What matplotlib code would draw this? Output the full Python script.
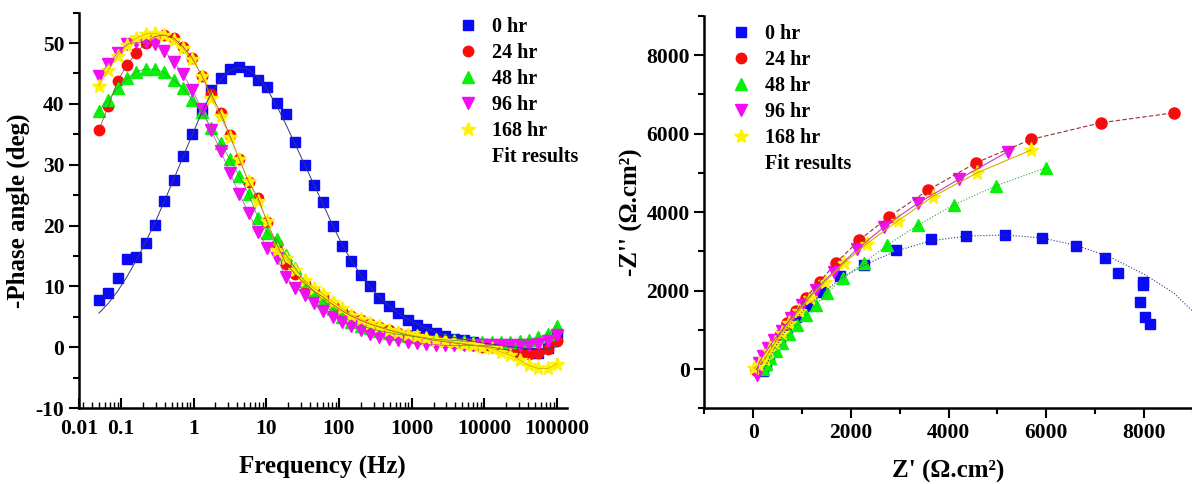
# EIS: Bode phase plot + Nyquist plot for different immersion times
import numpy as np
import matplotlib as mpl
import matplotlib.pyplot as plt
from matplotlib.lines import Line2D
from matplotlib.ticker import MultipleLocator, LogLocator, NullFormatter

mpl.rcParams['font.family'] = ['Liberation Serif', 'DejaVu Serif']
mpl.rcParams['font.weight'] = 'bold'
mpl.rcParams['axes.labelweight'] = 'bold'
mpl.rcParams['axes.unicode_minus'] = False

# ---- data ----
labels = ['0 hr', '24 hr', '48 hr', '96 hr', '168 hr']
colors = ['#0A0AF5', '#FF0A0A', '#0AF00A', '#F50AF5', '#FFF200']
fit_colors = ['#34347a', '#a03030', '#30a030', '#c040c0', '#d0b000']
markers = ['s', 'o', '^', 'v', '*']
msizes = [7, 7.5, 8, 8, 10.5]

# frequency (Hz), low to high
freq = [0.05, 0.0672, 0.0904, 0.1216, 0.1634, 0.2197, 0.2954, 0.3972, 0.5341, 0.7182,
        0.9658, 1.299, 1.746, 2.348, 3.157, 4.246, 5.709, 7.676, 10.32, 13.88,
        18.66, 25.10, 33.75, 45.38, 61.02, 82.05, 110.3, 148.4, 199.5, 268.2,
        360.7, 485.0, 652.2, 876.9, 1179, 1586, 2132, 2867, 3855, 5184,
        6970, 9373, 12603, 16946, 22787, 30640, 41200, 55400, 74494, 100000]

phase_0 = [7.7, 8.9, 11.4, 14.5, 14.8, 17.2, 20.1, 24.0, 27.4, 31.4,
           35.0, 38.8, 42.2, 44.3, 45.7, 46.1, 45.4, 43.9, 42.8, 40.1,
           38.4, 33.7, 30.0, 26.6, 23.8, 19.9, 16.7, 14.1, 11.8, 10.0,
           8.1, 6.8, 5.6, 4.5, 3.6, 3.0, 2.4, 1.8, 1.4, 1.2,
           0.9, 0.6, 0.3, 0.0, -0.3, -0.7, -1.0, -1.0, -0.2, 1.7]
phase_24 = [35.7, 39.6, 43.8, 46.4, 48.4, 50.0, 51.1, 51.3, 50.8, 49.4,
            47.5, 44.6, 41.6, 38.5, 34.8, 30.9, 27.2, 24.6, 20.5, 17.0,
            13.7, 12.0, 10.4, 9.2, 8.2, 7.0, 6.0, 5.1, 4.4, 3.8,
            3.3, 2.8, 2.4, 2.0, 1.7, 1.4, 1.1, 0.9, 0.7, 0.5,
            0.3, 0.1, 0.0, -0.3, -0.6, -0.9, -1.1, -1.0, -0.3, 1.0]
phase_48 = [38.8, 40.7, 42.6, 44.2, 45.3, 45.7, 45.7, 45.2, 44.0, 42.6,
            40.6, 38.6, 36.1, 33.6, 30.9, 28.1, 25.2, 21.3, 18.8, 17.8,
            15.2, 13.0, 10.8, 9.1, 7.6, 6.3, 5.0, 4.2, 3.5, 3.1,
            2.7, 2.4, 2.1, 1.9, 1.7, 1.5, 1.3, 1.2, 1.1, 1.0,
            0.9, 0.9, 0.9, 0.9, 0.9, 1.0, 1.2, 1.6, 2.2, 3.5]
phase_96 = [44.6, 46.5, 48.4, 49.8, 50.1, 50.1, 49.9, 48.7, 46.9, 44.9,
            42.2, 39.2, 35.7, 32.3, 28.7, 25.2, 22.1, 19.0, 16.3, 14.6,
            11.6, 9.8, 8.6, 7.2, 5.9, 5.0, 4.2, 3.4, 2.8, 2.1,
            1.7, 1.4, 1.1, 0.9, 0.7, 0.5, 0.4, 0.3, 0.3, 0.3,
            0.3, 0.3, 0.3, 0.3, 0.3, 0.3, 0.4, 0.6, 1.0, 2.0]
phase_168 = [43.0, 45.5, 47.9, 49.6, 50.8, 51.5, 51.6, 51.3, 50.5, 49.1,
             47.3, 44.6, 41.0, 38.0, 34.5, 31.0, 27.3, 24.1, 20.8, 16.0,
             14.6, 12.7, 11.0, 9.7, 8.7, 7.5, 6.4, 5.3, 4.6, 3.9,
             3.4, 2.9, 2.5, 2.1, 1.8, 1.5, 1.2, 1.0, 0.8, 0.6,
             0.4, 0.1, -0.2, -0.8, -1.3, -2.1, -3.0, -3.5, -3.5, -2.7]
# fitted curve of the 0 hr spectrum
phase_fit_0 = [5.6, 7.2, 9.2, 11.6, 14.3, 17.3, 20.5, 24.0, 27.6, 31.3,
               35.0, 38.6, 41.7, 44.0, 45.5, 46.0, 45.6, 44.4, 42.4, 39.7,
               36.6, 33.3, 30.0, 26.7, 23.4, 20.0, 16.9, 14.2, 11.9, 9.9,
               8.2, 6.8, 5.6, 4.6, 3.8, 3.1, 2.5, 2.0, 1.6, 1.3,
               1.0, 0.7, 0.5, 0.3, 0.1, -0.1, -0.3, -0.4, -0.3, 0.1]
phases = [phase_0, phase_24, phase_48, phase_96, phase_168]

# Nyquist data: Z' and -Z'' (ohm.cm2)
zre_0 = [200, 260, 330, 420, 540, 690, 880, 1120, 1380, 1780, 2260, 2920, 3640,
         4360, 5160, 5920, 6600, 7200, 7470, 7970, 7970, 7920, 8030, 8120]
zim_0 = [-60, 110, 290, 500, 760, 1040, 1330, 1620, 1975, 2370, 2660, 3040, 3320,
         3400, 3420, 3340, 3140, 2830, 2440, 2230, 2150, 1700, 1340, 1150]
zre_24 = [54, 116, 209, 310, 410, 542, 696, 874, 1083, 1362, 1702, 2174, 2785,
          3582, 4565, 5687, 7118, 8611]
zim_24 = [-17, 68, 195, 407, 619, 874, 1171, 1468, 1824, 2231, 2715, 3292, 3886,
          4564, 5260, 5854, 6278, 6533]
zre_48 = [209, 271, 348, 464, 580, 735, 890, 1083, 1277, 1509, 1841, 2259, 2747,
          3381, 4101, 4975, 5996]
zim_48 = [0, 127, 280, 450, 662, 891, 1128, 1383, 1637, 1934, 2333, 2698, 3165,
          3674, 4183, 4675, 5133]
zre_96 = [77, 116, 193, 310, 426, 580, 774, 1006, 1277, 1648, 2128, 2685, 3366,
          4217, 5207]
zim_96 = [-144, 153, 322, 534, 747, 976, 1298, 1637, 2019, 2486, 3054, 3631, 4225,
          4844, 5540]
zre_168 = [23, 116, 232, 333, 441, 580, 735, 928, 1161, 1470, 1857, 2321, 2956,
           3675, 4588, 5687]
zim_168 = [25, 110, 255, 450, 662, 916, 1171, 1468, 1824, 2231, 2698, 3190, 3775,
           4395, 5006, 5582]
# fitted arc of the 0 hr spectrum
zre_fit_0 = [200, 420, 690, 1120, 1780, 2260, 2920, 3640, 4360, 5160, 5920, 6600,
             7300, 8000, 8600, 9000]
zim_fit_0 = [-60, 500, 1040, 1620, 2300, 2640, 3010, 3270, 3390, 3420, 3340, 3160,
             2860, 2420, 1950, 1470]
zres = [zre_0, zre_24, zre_48, zre_96, zre_168]
zims = [zim_0, zim_24, zim_48, zim_96, zim_168]

nyq_fit_styles = [':', (0, (4, 2)), ':', '-', '-']

fig = plt.figure(figsize=(11.92, 4.84), dpi=100)
ax1 = fig.add_axes([0.0663, 0.157, 0.409, 0.817])
ax2 = fig.add_axes([0.5909, 0.1564, 0.4098, 0.8105])

# ---- Bode phase ----
for i in range(5):
    ax1.plot(freq, phases[i], linestyle='none', marker=markers[i], ms=msizes[i],
             color=colors[i], mec=colors[i], label=labels[i], zorder=3 + i)
# fit lines
ax1.plot(freq, phase_fit_0, color=fit_colors[0], lw=0.7, zorder=10)
for i in range(1, 5):
    ax1.plot(freq, phases[i], color=fit_colors[i], lw=0.5, zorder=10)

ax1.set_xscale('log')
xmin, xmax = 0.0266, 1.35e5
ax1.set_xlim(xmin, xmax)
ax1.set_ylim(-10, 55)
ax1.set_xticks([xmin, 0.1, 1, 10, 100, 1000, 10000, 100000])
ax1.set_xticklabels(['0.01', '0.1', '1', '10', '100', '1000', '10000', '100000'])
ax1.xaxis.set_minor_locator(LogLocator(base=10, subs=np.arange(2, 10), numticks=20))
ax1.xaxis.set_minor_formatter(NullFormatter())
ax1.yaxis.set_major_locator(MultipleLocator(10))
ax1.yaxis.set_minor_locator(MultipleLocator(5))
ax1.tick_params(axis='x', which='both', direction='in', labelsize=15.5, pad=8)
ax1.tick_params(axis='x', which='major', length=7, width=1.5)
ax1.tick_params(axis='x', which='minor', length=4, width=1)
ax1.tick_params(axis='y', which='both', direction='out', labelsize=15.5, width=1.5)
ax1.tick_params(axis='y', which='major', length=7)
ax1.tick_params(axis='y', which='minor', length=4)
ax1.set_xlabel('Frequency (Hz)', fontsize=18, labelpad=12)
ax1.set_ylabel('-Phase angle (deg)', fontsize=18, labelpad=4)

# ---- Nyquist ----
for i in range(5):
    ax2.plot(zres[i], zims[i], linestyle='none', marker=markers[i], ms=msizes[i] + 0.5,
             color=colors[i], mec=colors[i], label=labels[i], zorder=3 + i)
ax2.plot(zre_fit_0, zim_fit_0, color=fit_colors[0], lw=0.8, ls=':', zorder=10)
for i in range(1, 5):
    ax2.plot(zres[i], zims[i], color=fit_colors[i], lw=0.8, ls=nyq_fit_styles[i], zorder=10)

ax2.set_xlim(-1000, 9000)
ax2.set_ylim(-1000, 9000)
ax2.xaxis.set_major_locator(MultipleLocator(2000))
ax2.xaxis.set_minor_locator(MultipleLocator(1000))
ax2.yaxis.set_major_locator(MultipleLocator(2000))
ax2.yaxis.set_minor_locator(MultipleLocator(1000))
ax2.tick_params(which='both', direction='out', labelsize=15.5, width=1.5)
ax2.tick_params(which='major', length=7)
ax2.tick_params(which='minor', length=4)
ax2.set_xlabel("Z' (Ω.cm²)", fontsize=18, labelpad=12)
ax2.set_ylabel("-Z'' (Ω.cm²)", fontsize=18, labelpad=2)

for ax in (ax1, ax2):
    ax.spines['top'].set_visible(False)
    ax.spines['right'].set_visible(False)
    ax.spines['left'].set_linewidth(1.8)
    ax.spines['bottom'].set_linewidth(1.8)
    for t in ax.get_xticklabels() + ax.get_yticklabels():
        t.set_fontweight('bold')

# legends: five symbols plus the fit entry
def make_handles():
    hs = [Line2D([], [], linestyle='none', marker=markers[i], ms=msizes[i],
                 color=colors[i], mec=colors[i]) for i in range(5)]
    hs.append(Line2D([], [], linestyle='none'))
    return hs

leg_labels = labels + ['Fit results']
ax1.legend(make_handles(), leg_labels, loc='upper left', bbox_to_anchor=(0.748, 1.02),
           frameon=False, fontsize=14.5, handlelength=1.2, handletextpad=0.6,
           labelspacing=0.3, borderaxespad=0.2)
ax2.legend(make_handles(), leg_labels, loc='upper left', bbox_to_anchor=(0.025, 1.01),
           frameon=False, fontsize=14.5, handlelength=1.2, handletextpad=0.6,
           labelspacing=0.3, borderaxespad=0.2)

fig.savefig('out.png', dpi=100)
